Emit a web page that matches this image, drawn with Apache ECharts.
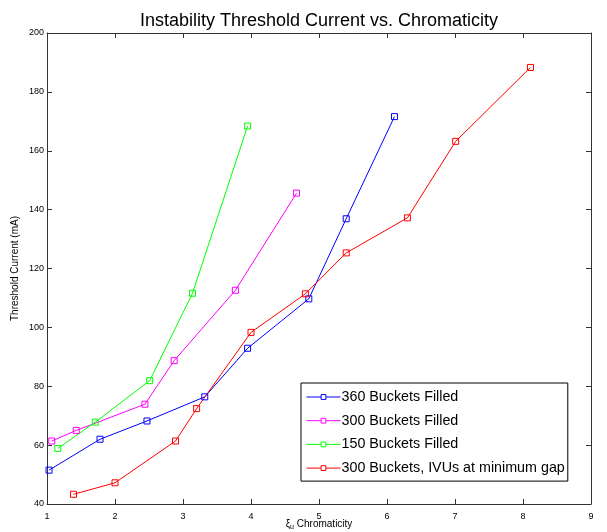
<!DOCTYPE html>
<html>
<head>
<meta charset="utf-8">
<script src="https://cdn.jsdelivr.net/npm/echarts@6/dist/echarts.min.js"></script>
<style>html,body{margin:0;padding:0;background:#fff;}#c{width:607px;height:532px;}</style>
</head>
<body>
<div id="c"></div>
<script>
const seriesNames = ['360 Buckets Filled', '300 Buckets Filled', '150 Buckets Filled', '300 Buckets, IVUs at minimum gap'];
const colors = ['#0000ff', '#ff00ff', '#00ff00', '#ff0000'];
const s360 = [[1.03,51.5],[1.78,62.0],[2.47,68.2],[3.32,76.4],[3.95,92.9],[4.85,109.7],[5.40,136.9],[6.11,171.6]];
const s300 = [[1.07,61.4],[1.43,65.0],[2.44,73.9],[2.87,88.7],[3.77,112.6],[4.67,145.6]];
const s150 = [[1.16,58.9],[1.71,67.8],[2.51,81.9],[3.14,111.6],[3.95,168.4]];
const s300ivu = [[1.39,43.3],[2.00,47.2],[2.89,61.4],[3.20,72.4],[4.00,98.3],[4.80,111.4],[5.40,125.3],[6.30,137.2],[7.01,163.2],[8.11,188.3]];
const allData = [s360, s300, s150, s300ivu];

const FONT = '"Liberation Sans", Arial, Helvetica, sans-serif';
const axisColor = '#333';
const chart = echarts.init(document.getElementById('c'), null, {renderer: 'canvas'});

const baseX = {
  type: 'value', min: 1, max: 9, interval: 1,
  axisLine: {show: true, onZero: false, lineStyle: {color: axisColor, width: 1}},
  axisTick: {show: true, inside: true, length: 5, lineStyle: {color: axisColor}},
  splitLine: {show: false}
};
const baseY = {
  type: 'value', min: 40, max: 200, interval: 20,
  axisLine: {show: true, onZero: false, lineStyle: {color: axisColor, width: 1}},
  axisTick: {show: true, inside: true, length: 5, lineStyle: {color: axisColor}},
  splitLine: {show: false}
};

chart.setOption({
  animation: false,
  backgroundColor: '#fff',
  textStyle: {fontFamily: FONT},
  title: {
    text: 'Instability Threshold Current vs. Chromaticity',
    left: 314, top: 7, textAlign: 'center',
    textStyle: {fontFamily: FONT, fontSize: 18, fontWeight: 'normal', color: '#000'}
  },
  grid: {left: 47, right: 16, top: 33, bottom: 28, containLabel: false, outerBoundsMode: 'none'},
  legend: {
    orient: 'vertical', left: 301, top: 383,
    data: seriesNames,
    itemWidth: 34, itemHeight: 6, itemGap: 9.7,
    padding: [7, 3, 6, 5],
    borderColor: '#000', borderWidth: 1, backgroundColor: '#fff',
    lineStyle: {width: 1},
    itemStyle: {color: '#fff', borderWidth: 1},
    textStyle: {fontFamily: FONT, fontSize: 14.3, color: '#000', padding: [0,0,0,-4]}
  },
  xAxis: [
    Object.assign({}, baseX, {
      position: 'bottom',
      axisLabel: {show: true, color: '#000', fontSize: 9, fontFamily: FONT, margin: 8},
      name: '{g|ξ}{s|u}{t| Chromaticity}',
      nameLocation: 'middle', nameGap: 13, nameMoveOverlap: false,
      nameTextStyle: {
        fontFamily: FONT, fontSize: 10, color: '#000',
        rich: {
          g: {fontFamily: FONT, fontSize: 10, color: '#000', lineHeight: 14, verticalAlign: 'middle'},
          s: {fontFamily: FONT, fontSize: 7, color: '#000', lineHeight: 14, verticalAlign: 'bottom', padding: [6,0,0,0]},
          t: {fontFamily: FONT, fontSize: 10, color: '#000', lineHeight: 14, verticalAlign: 'middle'}
        }
      }
    }),
    Object.assign({}, baseX, {position: 'top', axisLabel: {show: false}})
  ],
  yAxis: [
    Object.assign({}, baseY, {
      position: 'left',
      axisLabel: {show: true, color: '#000', fontSize: 9, fontFamily: FONT, margin: 3},
      name: 'Threshold Current (mA)',
      nameLocation: 'middle', nameGap: 27, nameRotate: 90, nameMoveOverlap: false,
      nameTextStyle: {fontFamily: FONT, fontSize: 10, color: '#000'}
    }),
    Object.assign({}, baseY, {position: 'right', axisLabel: {show: false}})
  ],
  series: allData.map((d, i) => ({
    name: seriesNames[i],
    type: 'line',
    data: d,
    xAxisIndex: 0, yAxisIndex: 0,
    symbol: 'rect', symbolSize: 6,
    lineStyle: {color: colors[i], width: 1},
    itemStyle: {color: 'rgba(255,255,255,0)', borderColor: colors[i], borderWidth: 1},
    emphasis: {disabled: true}
  }))
});
</script>
</body>
</html>
